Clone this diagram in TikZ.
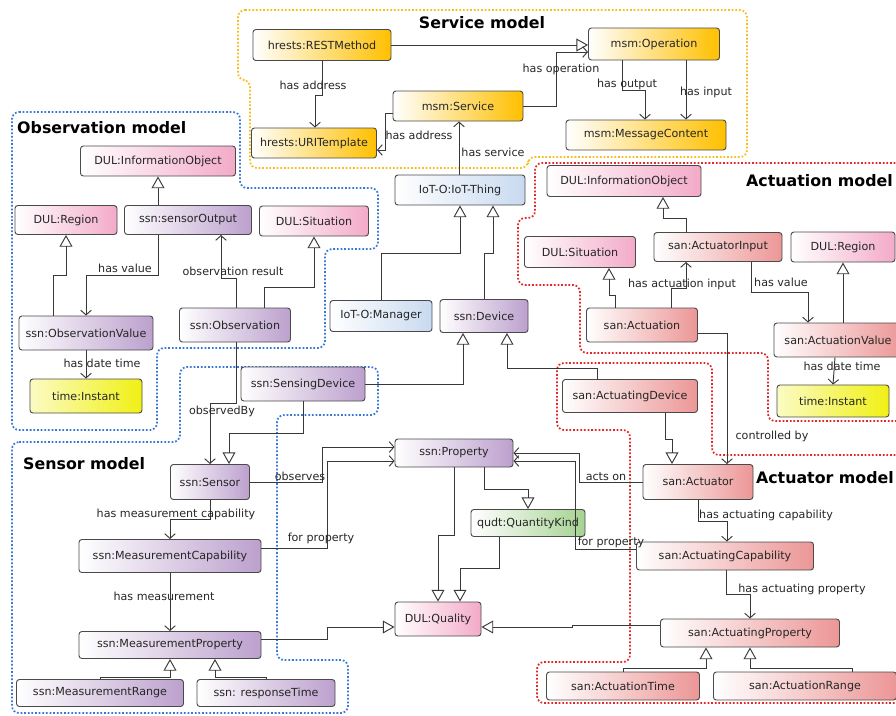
\documentclass[tikz,border=0pt]{standalone}
\usepackage{fontspec}
\setmainfont{DejaVu Sans}
\usetikzlibrary{positioning, arrows.meta}
\definecolor{svc}{HTML}{FFC000}
\definecolor{dul}{HTML}{F3AAC8}
\definecolor{ssn}{HTML}{BCA0CD}
\definecolor{iot}{HTML}{C8DAF0}
\definecolor{tim}{HTML}{F0F014}
\definecolor{san}{HTML}{EC9696}
\definecolor{qudt}{HTML}{A5D291}
\definecolor{boxline}{HTML}{4A4A4A}
\definecolor{lnk}{HTML}{383838}
\definecolor{zoneO}{HTML}{F5BE1E}
\definecolor{zoneB}{HTML}{3A78D6}
\definecolor{zoneR}{HTML}{E02828}

\begin{document}
\begin{tikzpicture}[x=0.03cm, y=-0.03cm, node font=\fontsize{9.5}{11}\selectfont,
  cls/.style={draw=boxline, line width=0.8pt, rounded corners=2.5pt, inner sep=0pt, text=black!85, left color=white},
  svcbox/.style={cls, right color=svc},
  dulbox/.style={cls, right color=dul},
  ssnbox/.style={cls, right color=ssn},
  iotbox/.style={cls, right color=iot},
  timbox/.style={cls, left color=tim!25, right color=tim},
  sanbox/.style={cls, right color=san},
  qudtbox/.style={cls, right color=qudt},
  lbl/.style={text=black!85, inner sep=0pt},
  title/.style={font=\fontsize{13.5}{16}\selectfont\bfseries, inner sep=0pt},
  isa/.style={draw=lnk, line width=0.8pt, -{Triangle[open, length=10pt, width=11pt]}},
  rel/.style={draw=lnk, line width=0.8pt, -{Straight Barb[length=4pt, width=9pt]}},
  zone/.style={line width=1.5pt, dash pattern=on 1.5pt off 1.6pt, rounded corners=6pt}]
\useasboundingbox (0,0) rectangle (896,715);

\draw[zone, zoneO] (238,10) -- (747,10) -- (747,157) -- (528,157) -- (528,168) -- (250,168) -- (250,80) -- (238,80) -- cycle;
\draw[zone, zoneB] (12,112) -- (240,112) -- (240,188) -- (378,188) -- (378,249) -- (325,249) -- (325,348) -- (157,348) -- (157,430) -- (12,430) -- cycle;
\draw[zone, zoneB] (12,442) -- (180,442) -- (180,367) -- (378,367) -- (378,415) -- (277,415) -- (277,660) -- (348,660) -- (348,713) -- (12,713) -- cycle;
\draw[zone, zoneR] (910,163) -- (535,163) -- (535,218) -- (518,218) -- (518,285) -- (580,285) -- (580,353) -- (768,353) -- (768,421) -- (910,421);
\draw[zone, zoneR] (910,455) -- (712,455) -- (712,363) -- (557,363) -- (557,430) -- (630,430) -- (630,662) -- (537,662) -- (537,703) -- (910,703);

\node[title] (tService) at (482,23) {Service model};
\node[title, anchor=west] (tObservation) at (17,128) {Observation model};
\node[title, anchor=west] (tSensor) at (23,464) {Sensor model};
\node[title, anchor=west] (tActuation) at (746,181) {Actuation model};
\node[title, anchor=east] (tActuator) at (894,478) {Actuator model};

\node[svcbox, minimum width=4.14cm, minimum height=0.93cm] (rest) at (322,45) {hrests:RESTMethod};
\node[svcbox, minimum width=3.93cm, minimum height=0.96cm] (op) at (654,44) {msm:Operation};
\node[svcbox, minimum width=3.75cm, minimum height=0.9cm] (uri) at (314,143) {hrests:URITemplate};
\node[svcbox, minimum width=3.9cm, minimum height=0.9cm] (service) at (458,106) {msm:Service};
\node[svcbox, minimum width=4.8cm, minimum height=0.9cm] (msg) at (646,135) {msm:MessageContent};

\node[dulbox, minimum width=4.65cm, minimum height=0.9cm] (infoObj) at (158,161) {DUL:InformationObject};
\node[dulbox, minimum width=3.06cm, minimum height=0.87cm] (region) at (66,220) {DUL:Region};
\node[ssnbox, minimum width=3.81cm, minimum height=0.87cm] (sensOut) at (188,220) {ssn:sensorOutput};
\node[dulbox, minimum width=3.27cm, minimum height=0.9cm] (situation) at (314,221) {DUL:Situation};
\node[ssnbox, minimum width=4.02cm, minimum height=1.02cm] (obsValue) at (86,333) {ssn:ObservationValue};
\node[ssnbox, minimum width=3.33cm, minimum height=1.02cm] (observation) at (235,325) {ssn:Observation};
\node[timbox, minimum width=3.36cm, minimum height=1.02cm] (instant) at (86,396) {time:Instant};

\node[ssnbox, minimum width=3.72cm, minimum height=1.02cm] (sensingDev) at (303,384) {ssn:SensingDevice};
\node[ssnbox, minimum width=2.37cm, minimum height=1.05cm] (sensor) at (210,482) {ssn:Sensor};
\node[ssnbox, minimum width=5.46cm, minimum height=0.99cm] (measCap) at (170,556) {ssn:MeasurementCapability};
\node[ssnbox, minimum width=5.46cm, minimum height=0.81cm] (measProp) at (170,645) {ssn:MeasurementProperty};
\node[ssnbox, minimum width=5.01cm, minimum height=0.81cm] (measRange) at (100,693) {ssn:MeasurementRange};
\node[ssnbox, minimum width=4.14cm, minimum height=0.81cm] (respTime) at (266,693) {ssn: responseTime};

\node[iotbox, minimum width=3.9cm, minimum height=0.9cm] (thing) at (460,190) {IoT-O:IoT-Thing};
\node[iotbox, minimum width=3.06cm, minimum height=0.93cm] (manager) at (381,316) {IoT-O:Manager};
\node[ssnbox, minimum width=2.64cm, minimum height=0.99cm] (device) at (484,316) {ssn:Device};
\node[ssnbox, minimum width=3.54cm, minimum height=0.84cm] (property) at (454,453) {ssn:Property};
\node[qudtbox, minimum width=3.42cm, minimum height=0.81cm] (qkind) at (528,523) {qudt:QuantityKind};
\node[dulbox, minimum width=2.58cm, minimum height=1.02cm] (quality) at (438,619) {DUL:Quality};

\node[dulbox, minimum width=4.62cm, minimum height=0.93cm] (infoObj2) at (624,181) {DUL:InformationObject};
\node[dulbox, minimum width=3.33cm, minimum height=0.93cm] (situation2) at (580,252) {DUL:Situation};
\node[sanbox, minimum width=3.84cm, minimum height=0.87cm] (actInput) at (718,247) {san:ActuatorInput};
\node[dulbox, minimum width=3.12cm, minimum height=0.9cm] (region2) at (843,247) {DUL:Region};
\node[sanbox, minimum width=3.33cm, minimum height=1.02cm] (actuation) at (642,325) {san:Actuation};
\node[sanbox, minimum width=3.84cm, minimum height=1.02cm] (actValue) at (838,340) {san:ActuationValue};
\node[timbox, minimum width=3.36cm, minimum height=0.96cm] (instant2) at (833,401) {time:Instant};

\node[sanbox, minimum width=4.05cm, minimum height=0.99cm] (actDevice) at (630,396) {san:ActuatingDevice};
\node[sanbox, minimum width=3.3cm, minimum height=1.05cm] (actuator) at (698,482) {san:Actuator};
\node[sanbox, minimum width=5.31cm, minimum height=0.84cm] (actCap) at (725,556) {san:ActuatingCapability};
\node[sanbox, minimum width=5.37cm, minimum height=0.84cm] (actProp) at (750,633) {san:ActuatingProperty};
\node[sanbox, minimum width=4.59cm, minimum height=0.84cm] (actTime) at (623,686) {san:ActuationTime};
\node[sanbox, minimum width=5.49cm, minimum height=0.84cm] (actRange) at (805,686) {san:ActuationRange};

\draw[isa] (rest.east) -- (rest.east -| op.west);
\draw[rel] (rest.south) -- (322,95) -| (uri.north -| 315,0);
\draw[rel] (service.west |- 0,113) -| (385,150) -- (uri.east |- 0,150);
\draw[rel] (service.east) -| (556,52) -- (op.west |- 0,52);
\draw[rel] (op.south -| 622,0) |- (645,90) -- (msg.north -| 645,0);
\draw[rel] (op.south -| 686,0) -- (msg.north -| 686,0);
\draw[rel] (thing.north -| 459,0) -- (service.south -| 459,0);

\draw[isa] (sensOut.north -| 158,0) -- (infoObj.south -| 158,0);
\draw[isa] (obsValue.north -| 53,0) |- (66,275) -- (region.south);
\draw[rel] (sensOut.south -| 158,0) |- (86,275) -- (obsValue.north);
\draw[rel] (observation.north -| 236,0) |- (221,278) -- (sensOut.south -| 221,0);
\draw[isa] (observation.north -| 264,0) |- (314,287) -- (situation.south);
\draw[rel] (obsValue.south) -- (instant.north);

\draw[rel] (observation.south -| 236,0) |- (210,403) -- (sensor.north);
\draw[isa] (sensingDev.south -| 303,0) |- (229,433) -- (sensor.north -| 229,0);
\draw[isa] (sensingDev.east) -| (device.south -| 463,0);
\draw[rel] (sensor.east) -| (322,447) -- (property.west |- 0,447);
\draw[rel] (measCap.east |- 0,548) -| (327,461) -- (property.west |- 0,461);
\draw[rel] (sensor.south) |- (170,519) -- (measCap.north);
\draw[rel] (measCap.south) -- (measProp.north);
\draw[isa] (measProp.east |- 0,639) -| (327,627) -- (quality.west |- 0,627);
\draw[isa] (measRange.north) |- (170,677) -- (measProp.south);
\draw[isa] (respTime.north) |- (215,677) -- (measProp.south -| 215,0);

\draw[isa] (manager.north) |- (460,253) -- (thing.south -| 460,0);
\draw[isa] (device.north) |- (493,253) -- (thing.south -| 493,0);
\draw[isa] (actDevice.north -| 597,0) |- (507,368) -- (device.south -| 507,0);
\draw[isa] (property.south -| 484,0) |- (528,489) -- (qkind.north);
\draw[isa] (property.south) |- (438,535) -- (quality.north);
\draw[isa] (qkind.south -| 499,0) |- (460,568) -- (quality.north -| 460,0);
\draw[rel] (actuator.west) -| (579,453) -- (property.east);
\draw[rel] (actCap.west |- 0,549) -| (575,461) -- (property.east |- 0,461);
\draw[isa] (actProp.west |- 0,625) -| (572,627) -- (quality.east |- 0,627);

\draw[isa] (actInput.north -| 686,0) |- (663,218) -- (infoObj2.south -| 663,0);
\draw[isa] (actuation.north -| 615,0) |- (609,295) -- (situation2.south -| 609,0);
\draw[rel] (actuation.north -| 671,0) |- (686,288) -- (actInput.south -| 686,0);
\draw[rel] (actInput.south -| 751,0) |- (808,292) -- (actValue.north -| 808,0);
\draw[isa] (actValue.north -| 843,0) -- (region2.south);
\draw[rel] (actValue.south -| 835,0) -- (instant2.north -| 833,0);
\draw[rel] (actuation.east |- 0,333) -| (actuator.north -| 727,0);

\draw[isa] (actDevice.south -| 665,0) |- (672,439) -- (actuator.north -| 672,0);
\draw[rel] (actuator.south) |- (727,521) -- (actCap.north -| 727,0);
\draw[rel] (actCap.south -| 726,0) |- (750,594) -- (actProp.north);
\draw[isa] (actTime.north) |- (706,668) -- (actProp.south -| 706,0);
\draw[isa] (actRange.north -| 852,0) |- (750,668) -- (actProp.south);

\node[lbl] (lAddr1) at (313,85) {has address};
\node[lbl] (lAddr2) at (419,135) {has address};
\node[lbl] (lOper) at (561,69) {has operation};
\node[lbl] (lOutput) at (627,84) {has output};
\node[lbl] (lInput) at (706,92) {has input};
\node[lbl] (lService) at (493,152) {has service};
\node[lbl] (lValue1) at (125,268) {has value};
\node[lbl] (lResult) at (233,271) {observation result};
\node[lbl] (lDate1) at (102,363) {has date time};
\node[lbl] (lObsBy) at (222,411) {observedBy};
\node[lbl] (lObserves) at (300,476) {observes};
\node[lbl] (lMeasCap) at (176,514) {has measurement capability};
\node[lbl] (lFor1) at (321,538) {for property};
\node[lbl] (lMeas) at (164,596) {has measurement};
\node[lbl] (lActsOn) at (606,477) {acts on};
\node[lbl] (lFor2) at (611,542) {for property};
\node[lbl] (lActInput) at (682,284) {has actuation input};
\node[lbl] (lValue2) at (781,282) {has value};
\node[lbl] (lDate2) at (842,366) {has date time};
\node[lbl] (lCtrl) at (772,436) {controlled by};
\node[lbl] (lActCap) at (766,515) {has actuating capability};
\node[lbl] (lActProp) at (802,589) {has actuating property};
\end{tikzpicture}
\end{document}
